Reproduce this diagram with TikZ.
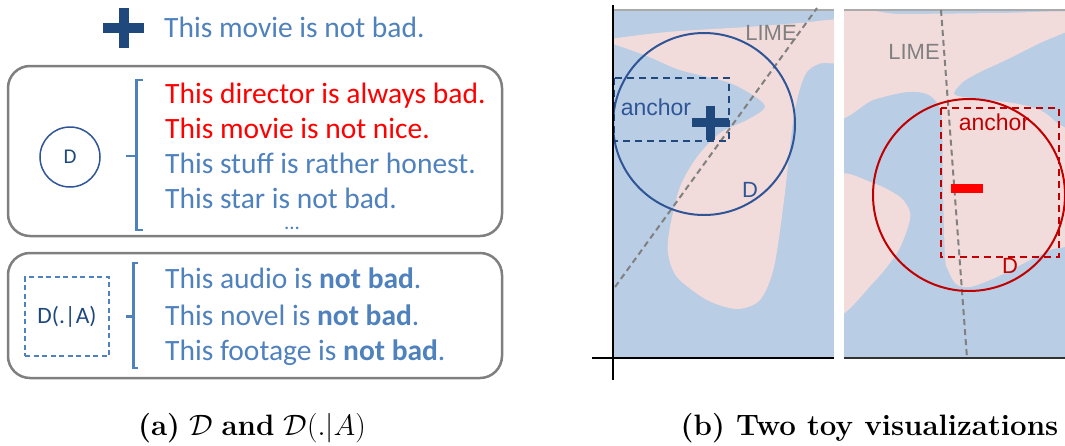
\documentclass[tikz,border=0pt]{standalone}
\usepackage{fix-cm}
\usepackage{fontspec}
\newfontfamily\cali{Carlito}
\newfontfamily\arial{Liberation Sans}
\definecolor{txtblue}{RGB}{79,129,189}
\definecolor{navy}{RGB}{31,73,125}
\definecolor{circblue}{RGB}{47,85,151}
\definecolor{boxgray}{RGB}{127,127,127}
\definecolor{limegray}{RGB}{128,128,128}
\definecolor{topgray}{RGB}{170,170,170}
\definecolor{axisdark}{RGB}{50,50,50}
\definecolor{bgblue}{RGB}{185,205,228}
\definecolor{bgpink}{RGB}{242,220,219}
\definecolor{darkred}{RGB}{192,0,0}
\definecolor{brightred}{RGB}{255,0,0}
\tikzset{
  sent/.style={anchor=base west, font=\cali\fontsize{29.5}{29.5}\selectfont, text=txtblue, inner sep=0pt},
  redsent/.style={sent, text=brightred},
  panelbox/.style={draw=boxgray, line width=2.5pt, rounded corners=22pt},
  bracketline/.style={draw=txtblue, line width=2.5pt},
  limeline/.style={draw=limegray, line width=2pt, dash pattern=on 6pt off 4pt},
  anchorbox/.style={line width=2.2pt, dash pattern=on 7pt off 5pt},
  paneltext/.style={font=\arial\fontsize{23}{23}\selectfont, inner sep=0pt},
  caption/.style={anchor=base, font=\fontsize{29.5}{31}\selectfont, inner sep=0pt}
}
\begin{document}
\begin{tikzpicture}[x=1pt,y=-1pt]
\useasboundingbox (0,0) rectangle (1065,445);

% ---------- (a) ----------
\fill[navy] (103,23) rectangle (144,33);
\fill[navy] (118.5,8) rectangle (128.5,48);
\node[sent] (top) at (164,37) {This movie is not bad.};

\draw[panelbox] (8,66) rectangle (502,236);
\node[draw=circblue, line width=1.5pt, circle, minimum size=60pt, inner sep=0pt,
      font=\cali\fontsize{21}{21}\selectfont, text=navy] (D) at (70,157) {D};
\draw[bracketline] (143,80) -- (136.5,80) -- (136.5,230) -- (143,230);
\draw[bracketline] (126,156) -- (137,156);
\node[redsent] (s1) at (165,103) {This director is always bad.};
\node[redsent] (s2) at (165,138) {This movie is not nice.};
\node[sent] (s3) at (165,173) {This stuff is rather honest.};
\node[sent] (s4) at (165,208) {This star is not bad.};
\node[sent, anchor=base, font=\cali\fontsize{21}{21}\selectfont] (dots) at (292,229) {...};

\draw[panelbox] (8,253) rectangle (502,378);
\node[draw=txtblue, line width=1.5pt, dash pattern=on 5pt off 3.5pt, minimum width=84pt, minimum height=79pt,
      inner sep=0pt, font=\cali\fontsize{23.5}{23.5}\selectfont, text=navy] (DA) at (67,316.5) {D(.|A)};
\draw[bracketline] (137.5,263) -- (133.5,263) -- (133.5,368) -- (137.5,368);
\draw[bracketline] (126,316.5) -- (134,316.5);
\node[sent] (a1) at (165,288) {This audio is \textbf{not bad}.};
\node[sent] (a2) at (165,325) {This novel is \textbf{not bad}.};
\node[sent] (a3) at (165,360) {This footage is \textbf{not bad}.};

\node[caption] (capa) at (252,435) {\textbf{(a)} $\mathcal{D}$ \textbf{and} $\mathcal{D}(.|A)$};

% ---------- (b) panel 1 ----------
\fill[bgblue] (613,10) rectangle (834,358);
\begin{scope}
\clip (613,10) rectangle (834,358);
\fill[bgpink] plot[smooth cycle, tension=0.5] coordinates {
  (600,41) (640,35) (680,31) (747,27) (800,23) (845,20) (850,40) (840,62)
  (820,63.5) (805,75) (794,115) (784,200) (774,267) (760,300) (737,309)
  (707,300) (677,277) (668,253) (670,227) (680,187) (697,157) (720,133)
  (747,120) (764,109) (760,100) (730,83) (680,70) (647,56) (613,44)};
\end{scope}
\draw[topgray, line width=1.5pt] (613,10) -- (834,10);
\draw[limeline] (615,287) coordinate (l1a) -- (817,8) coordinate (l1b);
\node[paneltext, text=limegray, font=\arial\fontsize{22}{22}\selectfont] (lime1) at (771,33) {LIME};
\draw[circblue, line width=2pt] (704,124) circle (91);
\draw[navy, anchorbox] (614,78) rectangle (729,141);
\node[paneltext, text=circblue] (anc1) at (656,107) {anchor};
\fill[navy] (692,118.3) rectangle (729,126.7);
\fill[navy] (706,106) rectangle (715,140);
\node[paneltext, text=circblue, font=\arial\fontsize{22}{22}\selectfont] (D1) at (750,190) {D};
\draw[black, line width=2pt] (613,5) -- (613,380);
\draw[black, line width=2pt] (592,358) -- (834,358);

% ---------- (b) panel 2 ----------
\fill[bgblue] (844,10) rectangle (1065,358);
\begin{scope}
\clip (844,10) rectangle (1065,358);
\fill[bgpink] plot[smooth cycle, tension=0.5] coordinates {
  (835,14) (900,14) (1000,13) (1075,12) (1075,27) (1040,43) (1006,60) (980,72)
  (963,82) (954,94) (970,98) (1013,103) (1040,110) (1057,123) (1075,143)
  (1075,236) (1050,250) (1030,260) (997,277) (970,287) (956,284) (948,270)
  (945,257) (943,190) (942,120) (938,104) (927,94) (907,92) (873,100) (835,116)};
\fill[bgpink] plot[smooth cycle, tension=0.5] coordinates {
  (835,176) (873,183) (900,197) (910,212) (908,227) (897,253) (873,283) (835,316) (820,245)};
\end{scope}
\draw[topgray, line width=1.5pt] (844,10) -- (1065,10);
\draw[limeline] (941,10) coordinate (l2a) -- (967,358) coordinate (l2b);
\node[paneltext, text=limegray, font=\arial\fontsize{22}{22}\selectfont] (lime2) at (914,52) {LIME};
\draw[darkred, line width=2pt] (969,195) circle (96);
\draw[darkred, anchorbox] (941,108) rectangle (1059,257);
\node[paneltext, text=darkred] (anc2) at (994,122) {anchor};
\fill[brightred] (951,184) rectangle (983,193);
\node[paneltext, text=darkred, font=\arial\fontsize{22}{22}\selectfont] (D2) at (1010,266) {D};
\draw[axisdark, line width=2pt] (844,358) -- (1065,358);

\node[caption] (capb) at (869.5,435) {\textbf{(b) Two toy visualizations}};
\end{tikzpicture}
\end{document}
